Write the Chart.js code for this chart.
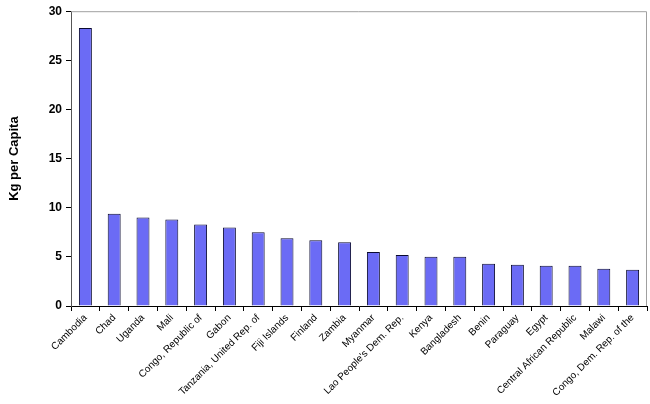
<!DOCTYPE html>
<html>
<head>
<meta charset="utf-8">
<script src="https://cdn.jsdelivr.net/npm/chart.js@4"></script>
<style>
  body { margin: 0; background: #fff; }
  #wrap { width: 650px; height: 404px; }
</style>
</head>
<body>
<div id="wrap"><canvas id="mycanvas"></canvas></div>
<script>
var countries = ['Cambodia', 'Chad', 'Uganda', 'Mali', 'Congo, Republic of', 'Gabon',
  'Tanzania, United Rep. of', 'Fiji Islands', 'Finland', 'Zambia', 'Myanmar',
  "Lao People's Dem. Rep.", 'Kenya', 'Bangladesh', 'Benin', 'Paraguay', 'Egypt',
  'Central African Republic', 'Malawi', 'Congo, Dem. Rep. of the'];
var kgPerCapita = [28.3, 9.4, 9.0, 8.8, 8.3, 8.0, 7.5, 6.9, 6.7, 6.5, 5.5,
  5.2, 5.0, 5.0, 4.3, 4.2, 4.1, 4.1, 3.8, 3.7];
var yTicks = [0, 5, 10, 15, 20, 25, 30];

// grey frame on top and right of the plot
var frame = {
  id: 'frame',
  afterDraw: function(chart) {
    var a = chart.chartArea, ctx = chart.ctx;
    ctx.save();
    ctx.strokeStyle = '#a0a0a0';
    ctx.lineWidth = 1;
    ctx.beginPath();
    ctx.moveTo(a.left, a.top + 0.5);
    ctx.lineTo(a.right - 0.5, a.top + 0.5);
    ctx.lineTo(a.right - 0.5, a.bottom);
    ctx.stroke();
    ctx.restore();
  }
};

var ctx = document.getElementById('mycanvas');
new Chart(ctx, {
  type: 'bar',
  data: {
    labels: countries,
    datasets: [{
      label: 'Kg per Capita',
      data: kgPerCapita,
      backgroundColor: '#6b6bf5',
      borderColor: '#0a0a30',
      borderWidth: 1,
      categoryPercentage: 1,
      barPercentage: 0.45
    }]
  },
  options: {
    responsive: true,
    maintainAspectRatio: false,
    animation: false,
    layout: { padding: { top: 8, right: 3, left: 7, bottom: 0 } },
    plugins: { legend: { display: false }, tooltip: { enabled: false } },
    scales: {
      x: {
        grid: { drawOnChartArea: false, offset: true, color: '#000', tickLength: 5 },
        border: { color: '#000' },
        ticks: {
          color: '#000',
          font: { family: 'Liberation Sans', size: 10 },
          minRotation: 45, maxRotation: 45, padding: 1, autoSkip: false
        },
        afterFit: function(s) { s.height = 98; }
      },
      y: {
        min: 0, max: 30,
        afterBuildTicks: function(s) { s.ticks = yTicks.map(function(v) { return { value: v }; }); },
        grid: { drawOnChartArea: false, color: '#000', tickLength: 5 },
        border: { color: '#555' },
        ticks: {
          color: '#000',
          font: { family: 'Liberation Sans', size: 12, weight: 'bold' },
          padding: 4
        },
        title: {
          display: true, text: 'Kg per Capita', color: '#000',
          font: { family: 'Liberation Sans', size: 13, weight: 'bold' },
          padding: { top: 0, bottom: 9 }
        },
        afterFit: function(s) { s.width = 64; }
      }
    }
  },
  plugins: [frame]
});
</script>
</body>
</html>
